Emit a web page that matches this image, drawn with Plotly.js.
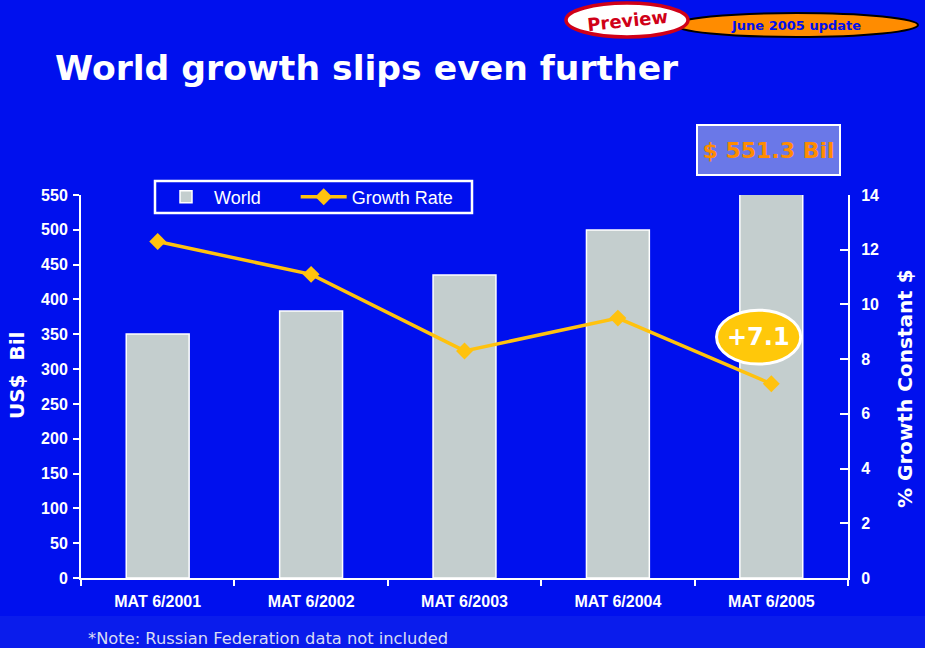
<!DOCTYPE html>
<html>
<head>
<meta charset="utf-8">
<script src="https://cdn.plot.ly/plotly-3.0.1.min.js"></script>
<style>html,body{margin:0;padding:0;background:#0010EE;}#chart{width:925px;height:648px;}</style>
</head>
<body>
<div id="chart"></div>
<script>
const categories = ["MAT 6/2001", "MAT 6/2002", "MAT 6/2003", "MAT 6/2004", "MAT 6/2005"];
const worldSales = [350.4, 383.4, 435.0, 499.7, 551.3];
const growthRate = [12.3, 11.1, 8.3, 9.5, 7.1];
const leftTicks = [0, 50, 100, 150, 200, 250, 300, 350, 400, 450, 500, 550];
const rightTicks = [0, 2, 4, 6, 8, 10, 12, 14];

const W = 925, H = 648, L = 81, R = 848, T = 195, B = 578;
const px = x => (x - L) / (R - L);
const py = y => (B - y) / (B - T);

const BG = '#0010EE';
const NB = '\u00a0';
const traces = [
  {type: 'bar', name: 'World' + NB.repeat(6), x: categories, y: worldSales, yaxis: 'y',
   marker: {color: '#C4CECE', line: {color: '#FFFFFF', width: 1.5}}},
  {type: 'scatter', mode: 'lines+markers', name: 'Growth Rate', x: categories, y: growthRate, yaxis: 'y2',
   line: {color: '#FFC20E', width: 3.5}, marker: {symbol: 'diamond', size: 13, color: '#FFC20E'}}
];

const tickFont = {family: 'Liberation Sans, Arial', size: 16, color: '#FFFFFF', weight: 'bold'};
const center = {xanchor: 'center', yanchor: 'middle', showarrow: false, xref: 'paper', yref: 'paper'};
const layout = {
  width: W, height: H,
  paper_bgcolor: BG, plot_bgcolor: BG,
  margin: {l: L, r: W - R, t: T, b: H - B},
  bargap: 0.59,
  showlegend: true,
  title: {text: 'World growth slips even further', x: 55 / W, xref: 'container', xanchor: 'left',
          y: 1 - 68 / H, yref: 'container', yanchor: 'middle',
          font: {family: 'DejaVu Sans', size: 34.6, color: '#FFFFFF', weight: 'bold'}},
  xaxis: {type: 'category', showgrid: false, zeroline: false, showline: true, linecolor: '#FFFFFF', linewidth: 2,
          ticks: 'outside', tickson: 'boundaries', ticklen: 6, tickwidth: 2, tickcolor: '#FFFFFF',
          tickfont: {family: 'Liberation Sans, Arial', size: 16, color: '#FFFFFF', weight: 'bold'},
          ticklabelstandoff: 8, range: [-0.5, 4.5]},
  yaxis: {range: [0, 550], tickvals: leftTicks, showgrid: false, zeroline: false, showline: true,
          linecolor: '#FFFFFF', linewidth: 2, ticks: 'outside', ticklen: 6, tickwidth: 2, tickcolor: '#FFFFFF',
          tickfont: tickFont, ticklabelstandoff: 2},
  yaxis2: {range: [0, 14], tickvals: rightTicks, overlaying: 'y', side: 'right', showgrid: false, zeroline: false,
           showline: true, linecolor: '#FFFFFF', linewidth: 2, ticks: 'inside', ticklen: 8, tickwidth: 2,
           tickcolor: '#FFFFFF', tickfont: tickFont, ticklabelstandoff: 8},
  legend: {orientation: 'h', x: px(158), y: py(197), xanchor: 'left', yanchor: 'middle',
           bgcolor: 'rgba(0,0,0,0)', borderwidth: 0,
           font: {family: 'Liberation Sans, Arial', size: 18, color: '#FFFFFF'},
           itemwidth: 46, tracegroupgap: 0},
  shapes: [
    {type: 'rect', xref: 'paper', yref: 'paper', x0: px(0), x1: px(W), y0: py(H), y1: py(616),
     fillcolor: '#0A1CEC', line: {width: 0}, layer: 'below'},
    {type: 'rect', xref: 'paper', yref: 'paper', x0: px(155), x1: px(472), y0: py(213), y1: py(181),
     fillcolor: 'rgba(0,0,0,0)', line: {color: '#FFFFFF', width: 2.5}},
    {type: 'circle', xref: 'paper', yref: 'paper', x0: px(675), x1: px(918), y0: py(37), y1: py(13),
     fillcolor: '#FF8C00', line: {color: '#000000', width: 2}},
    {type: 'circle', xref: 'paper', yref: 'paper', x0: px(566), x1: px(688), y0: py(37), y1: py(3),
     fillcolor: '#FFFFFF', line: {color: '#D00018', width: 3.5}},
    {type: 'circle', xref: 'x', yref: 'y2', x0: 3.643, x1: 4.192, y0: 7.82, y1: 9.79,
     fillcolor: '#FFC80A', line: {color: '#FFFFFF', width: 3}}
  ],
  annotations: [
    Object.assign({}, center, {text: '$ 551.3 Bil', x: px(768), y: py(150),
     bgcolor: '#6A78E8', bordercolor: '#FFFFFF', borderwidth: 2,
     width: 139, height: 46, font: {family: 'DejaVu Sans', size: 22, color: '#FF8C00', weight: 'bold'}}),
    Object.assign({}, center, {text: '+7.1', xref: 'x', yref: 'y2', x: 3.918, y: 8.81,
     font: {family: 'DejaVu Sans', size: 24, color: '#FFFFFF', weight: 'bold'}}),
    Object.assign({}, center, {text: 'Preview', x: px(627), y: py(20), textangle: -6,
     font: {family: 'DejaVu Sans', size: 18, color: '#D00018', weight: 'bold'}}),
    Object.assign({}, center, {text: 'June 2005 update', x: px(796), y: py(25),
     font: {family: 'DejaVu Sans', size: 13, color: '#0010EE', weight: 'bold'}}),
    Object.assign({}, center, {text: 'US$  Bil', x: px(17), y: py(376), textangle: -90,
     font: {family: 'DejaVu Sans', size: 20, color: '#FFFFFF', weight: 'bold'}}),
    Object.assign({}, center, {text: '% Growth Constant $', x: px(905), y: py(389), textangle: -90,
     font: {family: 'DejaVu Sans', size: 20, color: '#FFFFFF', weight: 'bold'}}),
    Object.assign({}, center, {text: '*Note: Russian Federation data not included', x: px(86), y: py(638),
     xanchor: 'left', font: {family: 'DejaVu Sans', size: 16.3, color: '#D8DCF4'}})
  ]
};

Plotly.newPlot('chart', traces, layout, {displayModeBar: false});
</script>
</body>
</html>
